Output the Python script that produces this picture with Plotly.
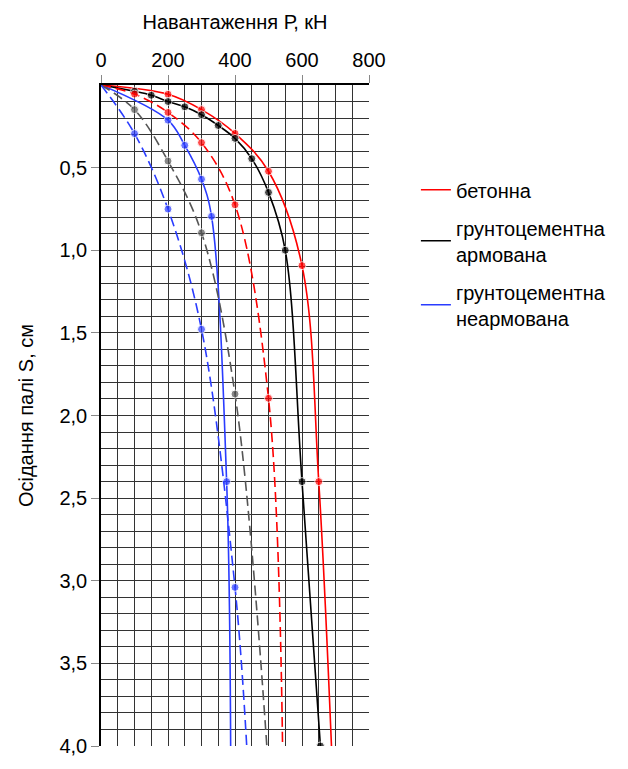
import plotly.graph_objects as go

# Load P (kN) and settlement S (cm)
red_solid_P = [0, 200, 300, 400, 500, 600, 650, 688]
red_solid_S = [0, 0.056, 0.149, 0.293, 0.522, 1.093, 2.40, 4.0]
red_solid_mk = [0, 1, 1, 1, 1, 1, 1, 0]

black_solid_P = [0, 100, 150, 200, 250, 300, 350, 400, 450, 500, 550, 600, 655]
black_solid_S = [0, 0.038, 0.062, 0.10, 0.132, 0.18, 0.245, 0.323, 0.446, 0.65, 1.0, 2.40, 4.0]
black_solid_mk = [0, 1, 1, 1, 1, 1, 1, 1, 1, 1, 1, 1, 1]

blue_solid_P = [0, 200, 250, 300, 330, 375, 387]
blue_solid_S = [0, 0.213, 0.365, 0.57, 0.795, 2.40, 4.0]
blue_solid_mk = [0, 1, 1, 1, 1, 1, 0]

red_dash_P = [0, 100, 200, 300, 400, 500, 542]
red_dash_S = [0, 0.055, 0.166, 0.349, 0.725, 1.896, 4.0]
red_dash_mk = [0, 1, 1, 1, 1, 1, 0]

grey_dash_P = [0, 100, 200, 300, 400, 495]
grey_dash_S = [0, 0.149, 0.46, 0.894, 1.87, 4.0]
grey_dash_mk = [0, 1, 1, 1, 1, 0]

blue_dash_P = [0, 100, 200, 300, 400, 435]
blue_dash_S = [0, 0.294, 0.751, 1.478, 3.04, 4.0]
blue_dash_mk = [0, 1, 1, 1, 1, 0]

legend_names = ["бетонна", "грунтоцементна<br>армована", "грунтоцементна<br>неармована"]
x_ticks = [0, 200, 400, 600, 800]
y_ticks = [0.5, 1.0, 1.5, 2.0, 2.5, 3.0, 3.5, 4.0]

RED = "#ff0000"
BLACK = "#000000"
BLUE = "#2a3cff"
GREY = "#555555"

fig = go.Figure()

series = [
    (red_solid_P, red_solid_S, red_solid_mk, RED, "solid"),
    (black_solid_P, black_solid_S, black_solid_mk, BLACK, "solid"),
    (blue_solid_P, blue_solid_S, blue_solid_mk, BLUE, "solid"),
    (red_dash_P, red_dash_S, red_dash_mk, RED, "10px,5px"),
    (grey_dash_P, grey_dash_S, grey_dash_mk, GREY, "10px,5px"),
    (blue_dash_P, blue_dash_S, blue_dash_mk, BLUE, "10px,5px"),
]
for P, S, mk, col, dash in series:
    fig.add_trace(go.Scatter(
        x=P, y=S, mode="lines+markers",
        line=dict(color=col, width=1.6, dash=dash, shape="spline", smoothing=1.0),
        marker=dict(color=col, size=[8 * m for m in mk]),
        showlegend=False, cliponaxis=True,
    ))

for i, (name, col) in enumerate(zip(legend_names, [RED, BLACK, BLUE])):
    fig.add_trace(go.Scatter(
        x=[None], y=[None], mode="lines", name=name, legendgroup=f"g{i}",
        line=dict(color=col, width=1.5),
    ))

FONT = "Liberation Sans, Arial, sans-serif"

fig.update_layout(
    width=628, height=769,
    margin=dict(l=101, r=259, t=85, b=14),
    paper_bgcolor="white", plot_bgcolor="white",
    separators=", ",
    font=dict(family=FONT, size=20, color="black"),
    legend=dict(
        x=1.175, y=0.871, xanchor="left", yanchor="top",
        font=dict(size=20, family=FONT),
        tracegroupgap=9, itemwidth=30,
        bgcolor="rgba(0,0,0,0)",
    ),
    xaxis=dict(
        side="top", range=[0, 800], tickvals=x_ticks,
        showgrid=True, gridcolor="#333333", gridwidth=1,
        minor=dict(dtick=50, showgrid=True, gridcolor="#333333", gridwidth=1),
        ticks="outside", ticklen=8, tickcolor="#888888",
        showline=True, linecolor="black", linewidth=1.5,
        zeroline=False,
        title=dict(text="Навантаження Р, кН", font=dict(size=20), standoff=14),
        tickfont=dict(size=20),
    ),
    yaxis=dict(
        range=[4.0, 0], tickvals=y_ticks, tickformat=".1f",
        showgrid=True, gridcolor="#333333", gridwidth=1,
        minor=dict(dtick=0.1, showgrid=True, gridcolor="#333333", gridwidth=1),
        ticks="outside", ticklen=8, tickcolor="#888888",
        showline=True, linecolor="black", linewidth=1.5,
        zeroline=False,
        title=dict(text="Осідання палі S, см", font=dict(size=20), standoff=20),
        tickfont=dict(size=20),
    ),
)

fig.write_html("out.html")
